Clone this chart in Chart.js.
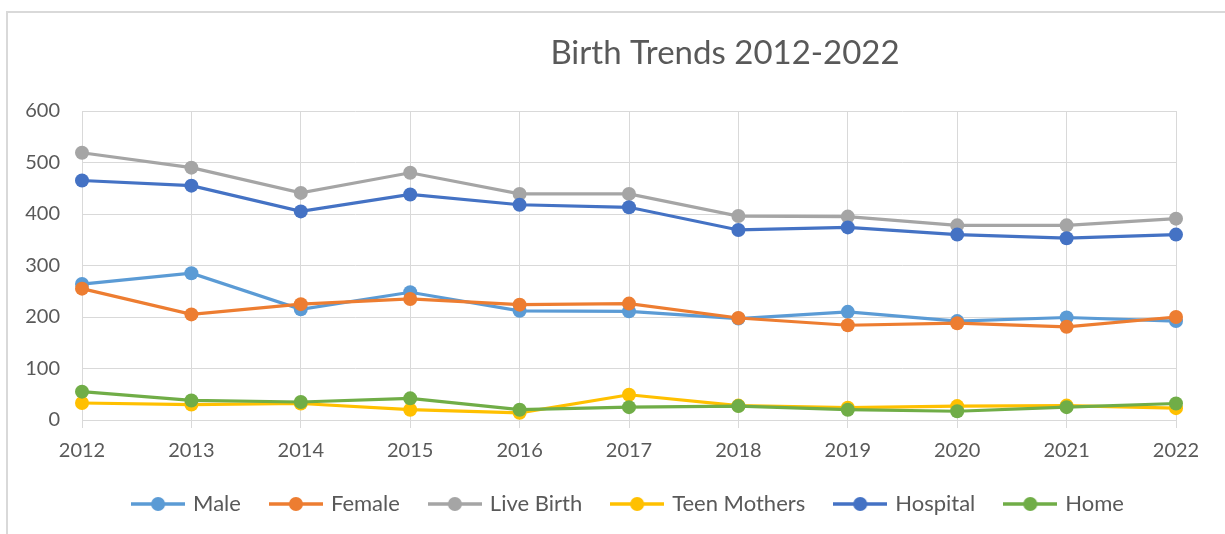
<!DOCTYPE html>
<html>
<head>
<meta charset="utf-8">
<script src="https://cdn.jsdelivr.net/npm/chart.js@4"></script>
<style>
  html, body { margin: 0; padding: 0; background: #fff; }
  #wrap { width: 1225px; height: 534px; }
</style>
</head>
<body>
<div id="wrap"><canvas id="birthChart"></canvas></div>
<script>
const years = ["2012", "2013", "2014", "2015", "2016", "2017", "2018", "2019", "2020", "2021", "2022"]
const male = [264, 285, 215, 248, 212, 211, 197, 210, 192, 199, 192]
const female = [255, 205, 225, 235, 224, 226, 198, 184, 188, 181, 200]
const liveBirth = [519, 490, 441, 480, 439, 439, 396, 395, 378, 378, 391]
const teenMothers = [33, 30, 32, 20, 14, 49, 28, 24, 27, 28, 23]
const hospital = [465, 455, 405, 438, 418, 413, 369, 374, 360, 353, 360]
const home = [55, 38, 35, 42, 20, 25, 27, 20, 17, 25, 32]

const textColor = "#595959"
const gridColor = "#d9d9d9"
const fontFamily = "Lato, 'Open Sans', sans-serif"

function makeSeries(label, data, color, idx) {
  return {
    label: label,
    data: data,
    borderColor: color,
    backgroundColor: color,
    borderWidth: 3.2,
    pointRadius: 7,
    pointBorderWidth: 0,
    pointHoverRadius: 7,
    tension: 0,
    order: 6 - idx, // later series on top, like Excel
  }
}

// small "line with dot" swatch for the legend
function legendSwatch(color) {
  const c = document.createElement("canvas")
  c.width = 54
  c.height = 16
  const g = c.getContext("2d")
  g.strokeStyle = color
  g.lineWidth = 3.5
  g.beginPath()
  g.moveTo(0, 8)
  g.lineTo(54, 8)
  g.stroke()
  g.fillStyle = color
  g.beginPath()
  g.arc(27, 8, 7, 0, Math.PI * 2)
  g.fill()
  return c
}

const framePlugin = {
  id: "frame",
  beforeDraw(chart) {
    const ctx = chart.ctx
    ctx.save()
    ctx.fillStyle = "#fff"
    ctx.fillRect(0, 0, chart.width, chart.height)
    ctx.strokeStyle = gridColor
    ctx.lineWidth = 2
    ctx.beginPath()
    ctx.moveTo(7, chart.height)
    ctx.lineTo(7, 12)
    ctx.lineTo(chart.width, 12)
    ctx.stroke()
    ctx.restore()
  },
}

const titlePlugin = {
  id: "offsetTitle",
  afterDraw(chart, args, opts) {
    const ctx = chart.ctx
    ctx.save()
    ctx.font = "33px " + fontFamily
    ctx.fillStyle = textColor
    ctx.textAlign = "center"
    ctx.textBaseline = "alphabetic"
    ctx.fillText(opts.text, 725, 64)
    ctx.restore()
  },
}

const ctx = document.getElementById("birthChart").getContext("2d")
new Chart(ctx, {
  type: "line",
  data: {
    labels: years,
    datasets: [
      makeSeries("Male", male, "#5B9BD5", 0),
      makeSeries("Female", female, "#ED7D31", 1),
      makeSeries("Live Birth", liveBirth, "#A5A5A5", 2),
      makeSeries("Teen Mothers", teenMothers, "#FFC000", 3),
      makeSeries("Hospital", hospital, "#4472C4", 4),
      makeSeries("Home", home, "#70AD47", 5),
    ],
  },
  options: {
    responsive: true,
    maintainAspectRatio: false,
    animation: false,
    layout: {
      padding: { top: 111, right: 49, bottom: 9, left: 0 },
    },
    scales: {
      x: {
        offset: false,
        grid: { color: gridColor, lineWidth: 1, tickLength: 8, tickColor: gridColor },
        border: { color: gridColor },
        ticks: {
          color: textColor,
          font: { family: fontFamily, size: 20 },
          padding: 11,
          maxRotation: 0,
        },
        afterFit(scale) {
          scale.height = 42
        },
      },
      y: {
        min: 0,
        max: 600,
        grid: { color: gridColor, lineWidth: 1, drawTicks: false },
        border: { display: false },
        ticks: {
          stepSize: 100,
          color: textColor,
          font: { family: fontFamily, size: 20 },
          padding: 22,
        },
        afterFit(scale) {
          scale.width = 82
        },
      },
    },
    plugins: {
      offsetTitle: { text: "Birth Trends 2012-2022" },
      title: { display: false },
      tooltip: { enabled: false },
      legend: {
        position: "bottom",
        fullSize: false,
        labels: {
          color: textColor,
          font: { family: fontFamily, size: 22 },
          usePointStyle: true,
          pointStyleWidth: 48,
          padding: 31,
          generateLabels(chart) {
            const items = Chart.defaults.plugins.legend.labels.generateLabels(chart)
            items.forEach((item) => {
              const ds = chart.data.datasets[item.datasetIndex]
              item.pointStyle = legendSwatch(ds.borderColor)
            })
            items.sort((a, b) => a.datasetIndex - b.datasetIndex)
            return items
          },
        },
      },
    },
  },
  plugins: [framePlugin, titlePlugin],
})
</script>
</body>
</html>
